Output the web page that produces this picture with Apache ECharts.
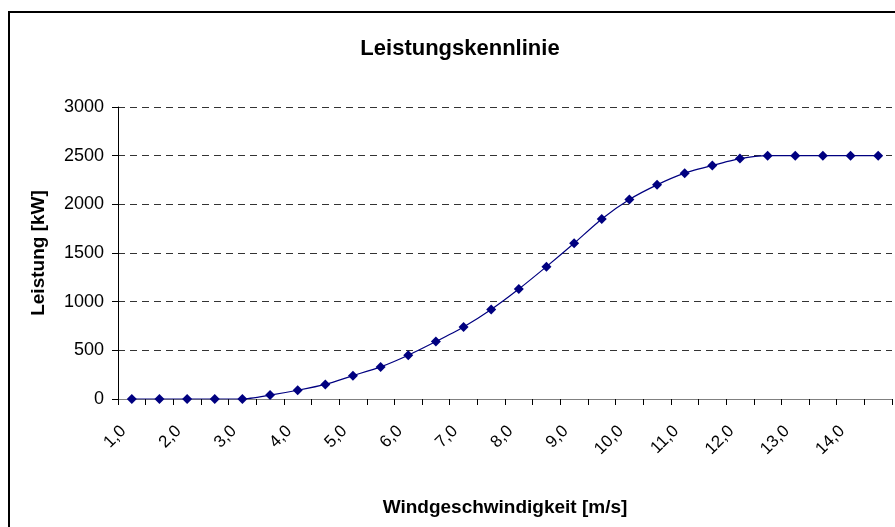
<!DOCTYPE html>
<html lang="de">
<head>
<meta charset="UTF-8">
<title>Leistungskennlinie</title>
<script src="https://cdn.jsdelivr.net/npm/echarts@6/dist/echarts.min.js"></script>
<style>
    html, body { margin: 0; padding: 0; background: #fff; }
    #chart { width: 895px; height: 527px; }
</style>
</head>
<body>
<div id="chart"></div>
<script>
    // Windgeschwindigkeit [m/s], 0,5er Schritte
    var windSpeeds = ['1,0', '1,5', '2,0', '2,5', '3,0', '3,5', '4,0', '4,5', '5,0', '5,5',
                      '6,0', '6,5', '7,0', '7,5', '8,0', '8,5', '9,0', '9,5', '10,0', '10,5',
                      '11,0', '11,5', '12,0', '12,5', '13,0', '13,5', '14,0', '14,5'];
    // Leistung [kW]
    var power = [0, 0, 0, 0, 0, 40, 90, 150, 240, 330,
                 450, 590, 740, 920, 1130, 1360, 1600, 1850, 2050, 2200,
                 2320, 2400, 2470, 2500, 2500, 2500, 2500, 2500];
    // Y-Achse
    var yMin = 0, yMax = 3000, yStep = 500;

    var font = 'Liberation Sans, Arial, sans-serif';

    var option = {
        animation: false,
        backgroundColor: '#fff',
        title: {
            text: 'Leistungskennlinie',
            left: 455,
            textAlign: 'center',
            top: 33,
            textStyle: { fontFamily: font, fontWeight: 'bold', fontSize: 22, color: '#000' }
        },
        graphic: [{
            type: 'rect',
            shape: { x: 9, y: 12, width: 900, height: 530 },
            style: { fill: 'none', stroke: '#000', lineWidth: 2 },
            silent: true
        }],
        grid: { left: 118, right: 3, top: 107, bottom: 128 },
        xAxis: {
            type: 'category',
            data: windSpeeds,
            boundaryGap: true,
            name: 'Windgeschwindigkeit [m/s]',
            nameLocation: 'middle',
            nameGap: 99,
            nameTextStyle: { fontFamily: font, fontWeight: 'bold', fontSize: 19, color: '#000' },
            axisLine: { lineStyle: { color: '#808080', width: 1 } },
            axisTick: { show: true, interval: 0, length: 6, lineStyle: { color: '#000' } },
            axisLabel: {
                interval: 1,
                rotate: 45,
                margin: 21,
                padding: [0, 12, 0, 0],
                fontFamily: font,
                fontSize: 17,
                color: '#000'
            },
            splitLine: { show: false }
        },
        yAxis: {
            type: 'value',
            min: yMin,
            max: yMax,
            interval: yStep,
            name: 'Leistung [kW]',
            nameLocation: 'middle',
            nameGap: 70,
            nameRotate: 90,
            nameTextStyle: { fontFamily: font, fontWeight: 'bold', fontSize: 19, color: '#000' },
            axisLine: { show: true, lineStyle: { color: '#000', width: 1 } },
            axisTick: { show: true, inside: false, length: 6, lineStyle: { color: '#000' } },
            axisLabel: {
                margin: 14,
                fontFamily: font,
                fontSize: 18,
                color: '#000',
                formatter: function (v) { return String(v); }
            },
            splitLine: {
                show: true,
                lineStyle: { color: '#333', width: 1, type: [7, 5] }
            }
        },
        series: [{
            type: 'line',
            data: power,
            symbol: 'diamond',
            symbolSize: 10,
            smooth: 0.2,
            lineStyle: { color: '#000080', width: 1.2 },
            itemStyle: { color: '#000080' }
        }]
    };

    var myChart = echarts.init(document.getElementById('chart'));
    myChart.setOption(option);
</script>
</body>
</html>
